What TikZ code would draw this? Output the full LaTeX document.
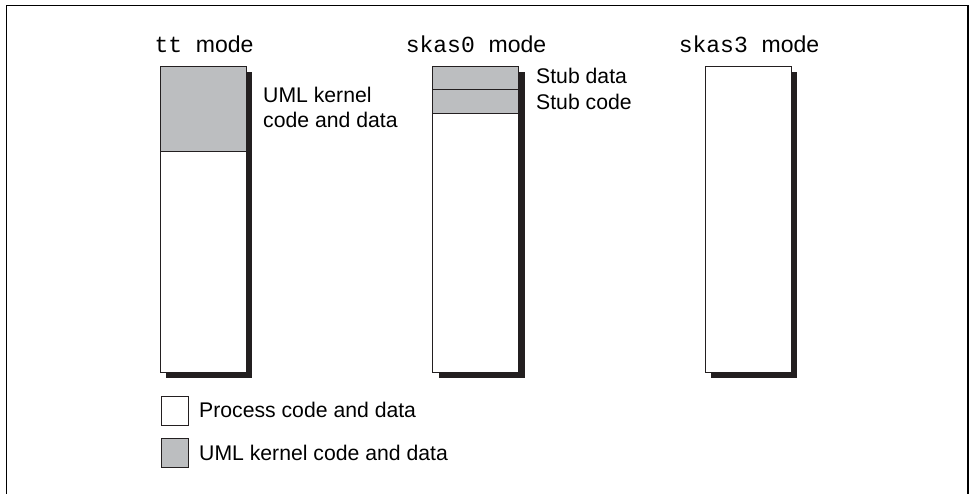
\documentclass[tikz,border=0pt]{standalone}
\usepackage{fontspec}
\setmainfont{Liberation Sans}
\newfontfamily\cour{Liberation Mono}
\usetikzlibrary{shadows}
\definecolor{kgray}{HTML}{BCBEC0}
\definecolor{ink}{HTML}{231F20}
\tikzset{
  membox/.style={draw=ink, line width=0.8pt, fill=white, minimum width=86pt, minimum height=306pt,
    inner sep=0pt, outer sep=0pt,
    drop shadow={shadow xshift=6pt, shadow yshift=-6pt, opacity=1, fill=ink}},
  kpart/.style={draw=ink, line width=0.8pt, fill=kgray, minimum width=86pt, inner sep=0pt, outer sep=0pt, anchor=north},
  title/.style={font=\fontsize{23}{27}\selectfont, anchor=base, inner sep=0pt},
  lbl/.style={font=\fontsize{21.2}{25}\selectfont, anchor=base west, inner sep=0pt},
  legbox/.style={draw=ink, line width=0.8pt, minimum width=27.6pt, minimum height=29pt, inner sep=0pt, anchor=north west},
  frameline/.style={line width=1.5pt, black}
}
\begin{document}
\begin{tikzpicture}[x=1pt, y=-1pt]
\useasboundingbox (0,0) rectangle (969,494);
% outer frame (open at the bottom)
\coordinate (fbl) at (6.7,494);
\coordinate (ftl) at (6.7,5.6);
\coordinate (ftr) at (967.8,5.6);
\coordinate (fbr) at (967.8,494);
\draw[frameline] (fbl) -- (ftl) -- (ftr) -- (fbr);

% titles
\node[title] (t1) at (204,53) {{\cour tt }mode};
\node[title] (t2) at (476,53) {{\cour skas0 }mode};
\node[title] (t3) at (749,53) {{\cour skas3 }mode};

% memory columns
\node[membox] (tt) at (203,219) {};
\node[kpart, minimum height=85.7pt] (ttk) at (tt.north) {};

\node[membox] (sk0) at (475.5,219) {};
\node[kpart, minimum height=23.7pt] (sd) at (sk0.north) {};
\node[kpart, minimum height=23.3pt] (sc) at (sd.south) {};

\node[membox] (sk3) at (748.3,219) {};

% side labels
\node[lbl] (l1) at (263,103) {UML kernel};
\node[lbl] (l2) at (263,128) {code and data};
\node[lbl] (l3) at (536,84) {Stub data};
\node[lbl] (l4) at (536,109.3) {Stub code};

% legend
\node[legbox, fill=white] (lw) at (160.7,396) {};
\node[legbox, fill=kgray] (lg) at (160.7,438.3) {};
\node[lbl] (lt1) at (199,417.7) {Process code and data};
\node[lbl] (lt2) at (199,460) {UML kernel code and data};
\end{tikzpicture}
\end{document}
